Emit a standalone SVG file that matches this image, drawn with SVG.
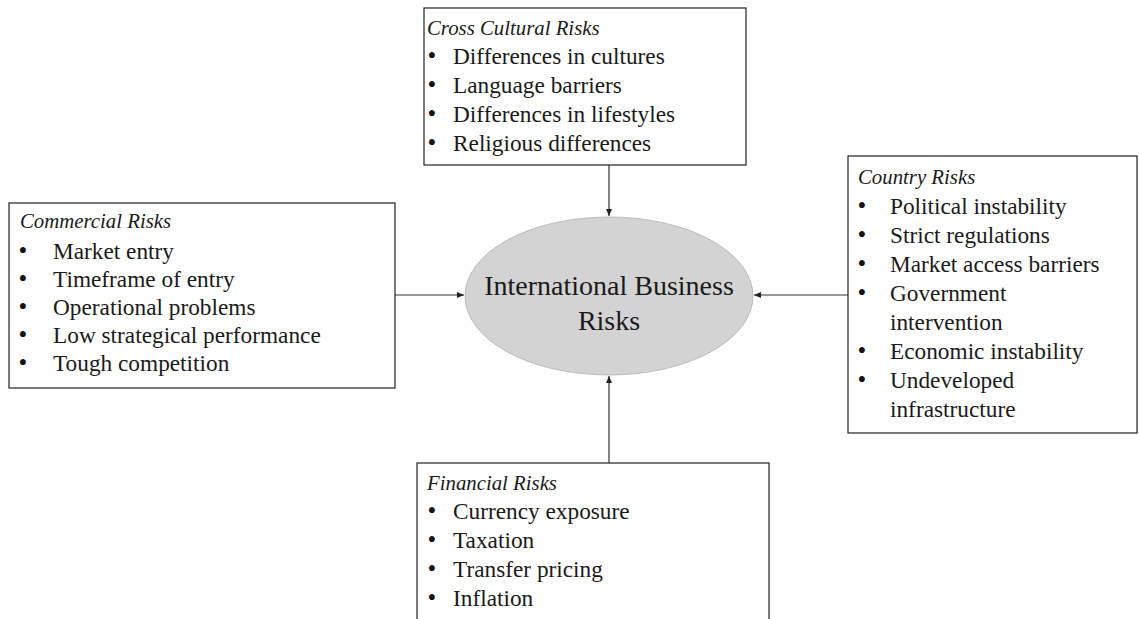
<svg xmlns="http://www.w3.org/2000/svg" width="1139" height="619" viewBox="0 0 1139 619">
<style>
.box{fill:#fff;stroke:#222;stroke-width:1.2}
.t{font-family:"Liberation Serif","DejaVu Serif",serif;font-size:23.3px;fill:#1a1a1a}
.h{font-family:"Liberation Serif","DejaVu Serif",serif;font-size:20.8px;font-style:italic;fill:#1a1a1a}
.b{font-family:"Liberation Serif","DejaVu Serif",serif;font-size:25px;fill:#111;text-anchor:middle}
.c{font-family:"Liberation Serif","DejaVu Serif",serif;font-size:28px;fill:#1a1a1a;text-anchor:middle}
.ln{stroke:#333;stroke-width:1.2;fill:none}
</style>
<defs>
<marker id="ah" markerWidth="8" markerHeight="8" refX="7" refY="4" orient="auto" markerUnits="userSpaceOnUse">
<path d="M0,1 L7,4 L0,7 Z" fill="#222"/>
</marker>
</defs>
<g id="connectors">
<line class="ln" x1="609" y1="165" x2="609" y2="216" marker-end="url(#ah)"/>
<line class="ln" x1="395" y1="295" x2="464" y2="295" marker-end="url(#ah)"/>
<line class="ln" x1="848" y1="295" x2="754" y2="295" marker-end="url(#ah)"/>
<line class="ln" x1="609" y1="463" x2="609" y2="376" marker-end="url(#ah)"/>
</g>
<g id="center">
<ellipse cx="609" cy="296" rx="144" ry="79" fill="#d3d3d3" stroke="#bdbdbd" stroke-width="1"/>
<text class="c" x="609" y="295">International Business</text>
<text class="c" x="609" y="330">Risks</text>
</g>
<g id="cross-cultural">
<rect class="box" x="424" y="8" width="322" height="157"/>
<text class="h" x="427" y="35">Cross Cultural Risks</text>
<text class="b" x="432" y="64">•</text><text class="t" x="453" y="64">Differences in cultures</text>
<text class="b" x="432" y="93">•</text><text class="t" x="453" y="93">Language barriers</text>
<text class="b" x="432" y="122">•</text><text class="t" x="453" y="122">Differences in lifestyles</text>
<text class="b" x="432" y="151">•</text><text class="t" x="453" y="151">Religious differences</text>
</g>
<g id="commercial">
<rect class="box" x="9" y="203" width="386" height="185"/>
<text class="h" x="20" y="228">Commercial Risks</text>
<text class="b" x="23" y="259">•</text><text class="t" x="53" y="259">Market entry</text>
<text class="b" x="23" y="287">•</text><text class="t" x="53" y="287">Timeframe of  entry</text>
<text class="b" x="23" y="315">•</text><text class="t" x="53" y="315">Operational problems</text>
<text class="b" x="23" y="343">•</text><text class="t" x="53" y="343">Low strategical performance</text>
<text class="b" x="23" y="371">•</text><text class="t" x="53" y="371">Tough competition</text>
</g>
<g id="country">
<rect class="box" x="848" y="156" width="289" height="277"/>
<text class="h" x="858" y="184">Country Risks</text>
<text class="b" x="862" y="214">•</text><text class="t" x="890" y="214">Political instability</text>
<text class="b" x="862" y="243">•</text><text class="t" x="890" y="243">Strict regulations</text>
<text class="b" x="862" y="272">•</text><text class="t" x="890" y="272">Market access barriers</text>
<text class="b" x="862" y="301">•</text><text class="t" x="890" y="301">Government</text>
<text class="t" x="890" y="330">intervention</text>
<text class="b" x="862" y="359">•</text><text class="t" x="890" y="359">Economic instability</text>
<text class="b" x="862" y="388">•</text><text class="t" x="890" y="388">Undeveloped</text>
<text class="t" x="890" y="417">infrastructure</text>
</g>
<g id="financial">
<rect class="box" x="417" y="463" width="352" height="170"/>
<text class="h" x="427" y="490">Financial Risks</text>
<text class="b" x="432" y="519">•</text><text class="t" x="453" y="519">Currency exposure</text>
<text class="b" x="432" y="548">•</text><text class="t" x="453" y="548">Taxation</text>
<text class="b" x="432" y="577">•</text><text class="t" x="453" y="577">Transfer pricing</text>
<text class="b" x="432" y="606">•</text><text class="t" x="453" y="606">Inflation</text>
</g>
</svg>
